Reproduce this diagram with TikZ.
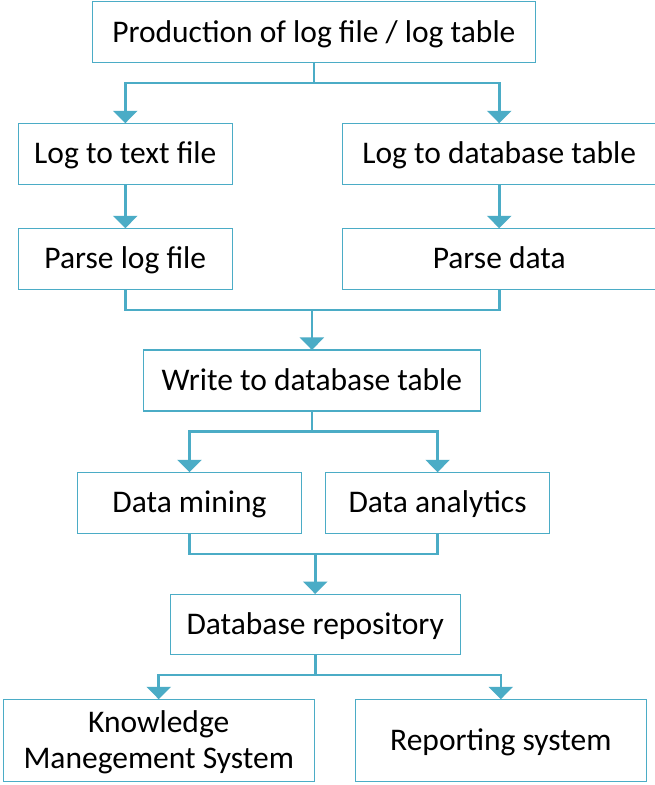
\documentclass[tikz,border=0pt]{standalone}
\usepackage{fontspec}
\setmainfont{Carlito}
\usetikzlibrary{arrows.meta}
\definecolor{aqua}{HTML}{4BACC6}
\begin{document}
\begin{tikzpicture}[x=1pt,y=-1pt,
  box/.style={draw=aqua, line width=1.1pt, fill=white, inner sep=0pt,
    align=center, font=\fontsize{31.5}{36}\selectfont, text=black,
    text height=20.3pt, text depth=0pt},
  link/.style={draw=aqua, line width=2.6pt},
  arr/.style={link, -{Triangle[width=24pt,length=12.5pt]}, shorten >=-0.5pt}]
\clip (0,0) rectangle (655,785);
\fill[white] (0,0) rectangle (655,785);

% process boxes
\node[box, minimum width=443pt, minimum height=60.6pt] (prod) at (313.9,32) {Production of log file / log table};
\node[box, minimum width=213.8pt, minimum height=61pt] (ltext) at (125.3,153.8) {Log to text file};
\node[box, minimum width=313.5pt, minimum height=61pt] (ldb) at (499.2,153.8) {Log to database table};
\node[box, minimum width=213.8pt, minimum height=60.7pt] (parse) at (125.3,258.7) {Parse log file};
\node[box, minimum width=313.5pt, minimum height=60.7pt] (pdata) at (499.2,258.7) {Parse data};
\node[box, minimum width=337pt, minimum height=61pt] (write) at (311.9,380.5) {Write to database table};
\node[box, minimum width=224.3pt, minimum height=61pt] (mining) at (189.5,502.8) {Data mining};
\node[box, minimum width=224.3pt, minimum height=61pt] (analytics) at (437.6,502.8) {Data analytics};
\node[box, minimum width=290.3pt, minimum height=60.3pt] (repo) at (315.2,624.2) {Database repository};
\node[box, minimum width=310.8pt, minimum height=82.4pt, text height=56.3pt] (kms) at (158.7,740.5) {Knowledge\\Manegement System};
\node[box, minimum width=290.5pt, minimum height=82.4pt] (rep) at (500.8,740.5) {Reporting system};

% branch and merge points
\coordinate (j1) at (313.9,83);
\coordinate (j2) at (311.9,310);
\coordinate (j3) at (311.9,431.7);
\coordinate (j4) at (315.2,554);
\coordinate (j5) at (315.2,675);

% connectors
\draw[link] (prod.south) -- (j1);
\draw[arr] (j1) -| (ltext.north);
\draw[arr] (j1) -| (ldb.north);
\draw[arr] (ltext.south) -- (parse.north);
\draw[arr] (ldb.south) -- (pdata.north);
\draw[link] (parse.south) |- (j2) -| (pdata.south);
\draw[arr] (j2) -- (write.north);
\draw[link] (write.south) -- (j3);
\draw[arr] (j3) -| (mining.north);
\draw[arr] (j3) -| (analytics.north);
\draw[link] (mining.south) |- (j4) -| (analytics.south);
\draw[arr] (j4) -- (repo.north);
\draw[link] (repo.south) -- (j5);
\draw[arr] (j5) -| (kms.north);
\draw[arr] (j5) -| (rep.north);
\end{tikzpicture}
\end{document}
